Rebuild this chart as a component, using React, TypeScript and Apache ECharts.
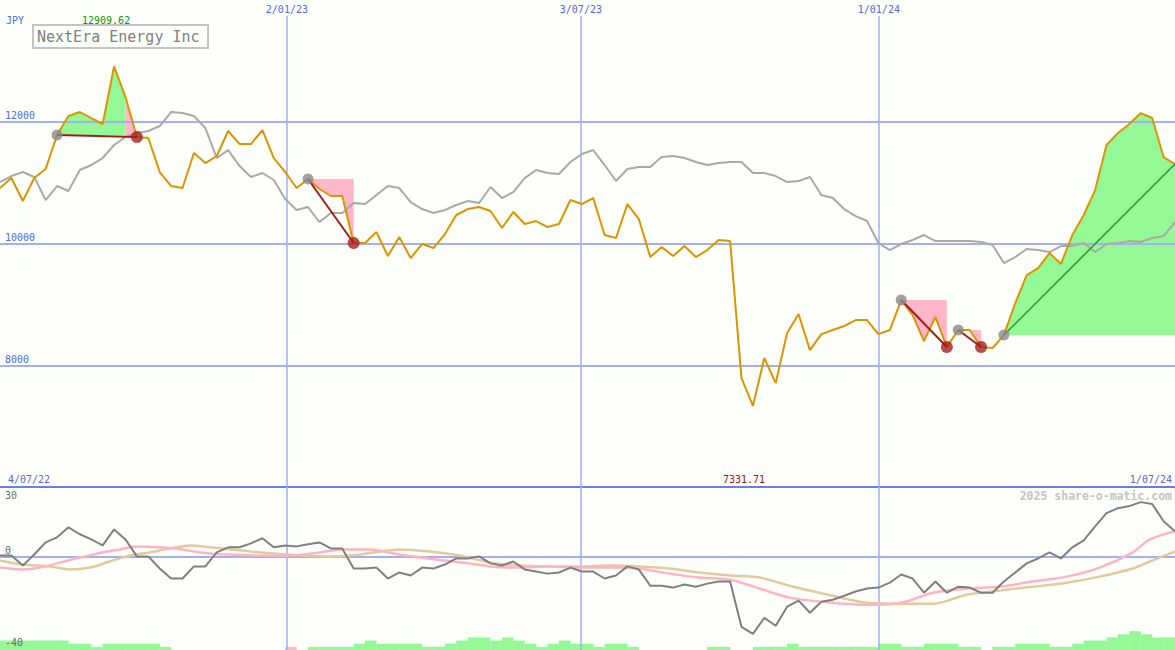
import React, { useEffect, useRef } from "react";
import * as echarts from "echarts";

// ---- data (weekly, index 0 = 4/07/22) ----
const startDate = "4/07/22";
const endDate = "1/07/24";
const orange = [10911,11075,10698,11075,11223,11782,12094,12160,12061,11963,
12909.62,12406,11749,11733,11174,10944,10911,11486,11322,11437,
11848,11634,11634,11864,11404,11174,10911,11059,10895,10780,
10780,10008,10008,10188,9794,10106,9761,9991,9925,10155,
10468,10566,10599,10533,10254,10517,10320,10369,10270,10320,
10714,10648,10747,10139,10090,10648,10402,9777,9942,9794,
9958,9777,9892,10057,10040,7789,7331.71,8118,7707,8529,
8841,8249,8512,8578,8644,8742,8742,8512,8578,9071,
8825,8397,8792,8299,8578,8578,8299,8282,8496,9022,
9482,9597,9843,9662,10139,10468,10878,11618,11815,11963,
12143,12061,11420,11305];
const gray = [11010,11108,11174,11092,10714,10944,10862,11207,11289,11404,
11618,11749,11815,11848,11930,12160,12143,12094,11897,11404,
11535,11273,11092,11158,11043,10730,10550,10599,10353,10500,
10500,10665,10648,10796,10944,10911,10681,10566,10500,10550,
10632,10698,10665,10928,10747,10845,11075,11207,11158,11141,
11338,11470,11535,11289,11026,11223,11256,11256,11420,11437,
11404,11338,11289,11322,11338,11338,11158,11158,11108,11010,
11026,11092,10796,10747,10566,10451,10369,10008,9892,9991,
10057,10139,10040,10040,10040,10040,10024,9975,9679,9777,
9909,9892,9860,9958,9958,10008,9860,9991,10008,10040,
10024,10090,10123,10353];
const osc = [0.6,0.6,-3.7,1.0,6.2,8.4,12.7,9.7,7.5,4.9,
11.8,7.5,0.2,0.2,-5.0,-9.3,-9.3,-4.1,-4.1,1.9,
4.1,4.1,5.8,8.0,4.1,4.9,4.5,5.4,6.2,3.6,
3.6,-5.0,-5.0,-4.6,-9.3,-6.7,-8.0,-4.6,-5.0,-3.3,
-0.7,-0.7,0.2,-2.8,-3.7,-2.0,-5.4,-6.3,-7.2,-6.7,
-4.6,-6.3,-6.3,-9.3,-8.0,-4.1,-5.4,-12.4,-12.4,-13.2,
-11.9,-12.8,-11.5,-10.6,-10.6,-30.1,-33.1,-26.2,-29.6,-21.4,
-18.8,-24.0,-19.3,-18.4,-16.7,-14.9,-13.6,-13.2,-11.1,-7.6,
-9.3,-15.4,-10.6,-15.4,-12.8,-13.2,-15.4,-15.4,-10.6,-6.7,
-2.8,-0.7,1.9,-0.7,4.1,7.1,13.1,18.8,20.9,21.8,
23.5,22.7,15.3,11.0];
const oscPink = [[0,-4.6],[2,-5.4],[3.5,-4.6],[5,-2.8],[7,-0.3],[9,1.9],[10.5,3.2],[12,4.5],[14,4.1],[16,3.2],[17.5,1.9],[20,1.0],[23,0.6],[25.5,0.6],[28,1.9],[30,3.2],[32.5,3.2],[35,1.0],[37.5,-0.7],[40.5,-2.4],[43,-4.1],[45.5,-4.6],[48,-4.1],[51,-4.6],[53.5,-4.6],[56,-5.0],[58.7,-7.2],[61.3,-8.9],[64,-9.8],[66.6,-13.6],[69.2,-17.5],[73,-19.7],[76,-20.6],[79,-19.7],[81.8,-15.4],[84.8,-13.6],[87.6,-12.8],[90.5,-10.6],[93.5,-8.5],[96.4,-4.6],[99.3,1.9],[100.8,7.5],[103,11.0]];
const oscTan = [[0,-1.5],[2,-3.3],[4.4,-4.1],[6.1,-5.4],[7.9,-4.6],[9.6,-2.0],[11.4,0.6],[13.1,1.9],[14.9,3.6],[16.7,4.9],[18.4,4.1],[21,2.8],[23.7,1.5],[26.3,0.6],[28.9,0.2],[31.6,1.0],[33.3,2.3],[35,3.2],[37.7,2.3],[40.3,0.6],[42.9,-2.4],[45.6,-3.7],[48.2,-4.1],[50.8,-4.1],[53.5,-3.7],[56.1,-4.1],[58.7,-5.0],[61.3,-6.7],[64,-8.0],[66.6,-8.9],[69.2,-12.4],[73,-16.7],[76,-19.7],[78.9,-20.1],[81.8,-20.1],[84.8,-16.2],[87.6,-14.5],[90.5,-12.8],[93.5,-11.1],[96.4,-8.5],[99.3,-5.0],[100.8,-2.0],[103,2.3]];
const volume = [3,3,3,3,3,3,2,2,1,2,
2,2,2,2,1,0,0,0,0,0,
0,0,0,0,0,1,0,1,1,1,
1,2,3,2,2,2,2,1,1,2,
3,4,4,3,4,3,2,1,2,3,
2,2,1,2,2,1,0,0,0,0,
0,0,1,1,0,0,1,1,1,2,
1,1,1,1,1,1,1,2,2,1,
1,2,2,2,1,1,0,1,1,2,
2,2,1,1,2,3,3,4,5,6,
5,4,4];
const volumeDown = [25];
const priceTicks = [8000, 10000, 12000];
const oscTicks = [30, 0, -40];
const dateLinePos = [25.15, 50.92, 77.04];
const dateLineLabels = ["2/01/23", "3/07/23", "1/01/24"];
const signalStart = [5, 27, 79, 84, 88];
const signalEnd = [12, 31, 83, 86, 103];
const signalOpen = [false, false, false, false, true];
const upFills = [[5, 11, 5], [88, 103, 88]];
const downFills = [[11, 12, 5], [27, 31, 27], [79, 83, 79], [84, 86, 84]];

const BG = "#fcfffa";
const GRID = "#a3aff0";
const BLUE_TEXT = "#5566e6";
const GREEN = "#94f894";
const PINK = "#ffb6c8";
const FONT = "DejaVu Sans Mono";
const DATE_TOP = 13737;

function range(a: number, b: number) {
  const r: number[] = [];
  for (let i = a; i <= b; i++) r.push(i);
  return r;
}

export default function App() {
  const ref = useRef<HTMLDivElement>(null);
  useEffect(() => {
    document.body.style.margin = "0";
    const chart = echarts.init(ref.current!, null, { renderer: "svg" });
    const priceMax = Math.max(...orange);
    const priceMin = Math.min(...orange);
    const series: any[] = [];

    const fill = (a: number, b: number, r: number, color: string) => ({
      type: "line", xAxisIndex: 0, yAxisIndex: 0, silent: true, z: 1,
      data: range(a, b).map((i) => [i, orange[i]]),
      symbol: "none", lineStyle: { width: 0 },
      areaStyle: { color, opacity: 1, origin: orange[r] },
    });
    upFills.forEach(([a, b, r]) => series.push(fill(a, b, r, GREEN)));
    downFills.forEach(([a, b, r]) => series.push(fill(a, b, r, PINK)));

    const lbl = (txt: string, pos: string, color: string, dist: any) => ({
      show: true, position: pos, formatter: txt, color, fontFamily: FONT, fontSize: 10, distance: dist,
    });

    series.push({
      type: "line", xAxisIndex: 0, yAxisIndex: 0, z: 3, silent: true,
      data: gray.map((v, i) => [i, v]), symbol: "none",
      lineStyle: { color: "#a9a9a9", width: 2 },
      markLine: {
        silent: true, z: 2, symbol: ["none", "none"],
        data: [
          ...priceTicks.map((v) => ({
            yAxis: v, lineStyle: { color: GRID, width: 2, type: "solid" },
            label: lbl(String(v), "insideStartTop", BLUE_TEXT, [5, 1]),
          })),
          ...dateLinePos.map((x, k) => [
            { coord: [x, DATE_TOP], lineStyle: { color: GRID, width: 1.5, type: "solid" },
              label: lbl(dateLineLabels[k], "start", BLUE_TEXT, 2) },
            { coord: [x, 6000] },
          ]),
        ],
      },
    });

    series.push({
      type: "line", xAxisIndex: 0, yAxisIndex: 0, z: 4, silent: true,
      data: orange.map((v, i) => [i, v]), symbol: "none",
      lineStyle: { color: "#dc9400", width: 2 },
    });

    signalStart.forEach((s, k) => {
      const e = signalEnd[k];
      series.push({
        type: "line", xAxisIndex: 0, yAxisIndex: 0, z: 5, silent: true,
        data: [[s, orange[s]], [e, orange[e]]], symbol: "none",
        lineStyle: { color: signalOpen[k] ? "#2a9a2a" : "#a31c1c", width: signalOpen[k] ? 1.5 : 2 },
      });
    });
    series.push({
      type: "scatter", xAxisIndex: 0, yAxisIndex: 0, z: 6, silent: true,
      data: signalStart.map((s) => [s, orange[s]]), symbolSize: 11,
      itemStyle: { color: "#8a8a8a" },
    });
    series.push({
      type: "scatter", xAxisIndex: 0, yAxisIndex: 0, z: 6, silent: true,
      data: signalEnd.filter((_, k) => !signalOpen[k]).map((e) => [e, orange[e]]), symbolSize: 12,
      itemStyle: { color: "#a81e1e" },
    });

    // lower panel
    series.push({
      type: "bar", xAxisIndex: 1, yAxisIndex: 2, z: 1, silent: true, barWidth: 11.6,
      data: volume.map((v, k) => ({ value: [k + 0.5, v], itemStyle: { color: volumeDown.includes(k) ? PINK : GREEN } })),
    });
    series.push({
      type: "line", xAxisIndex: 1, yAxisIndex: 1, z: 3, silent: true, smooth: 0.3,
      data: oscTan, symbol: "none", lineStyle: { color: "#e2ca9c", width: 2.5 },
    });
    series.push({
      type: "line", xAxisIndex: 1, yAxisIndex: 1, z: 3, silent: true, smooth: 0.3,
      data: oscPink, symbol: "none", lineStyle: { color: "#ffb4c4", width: 2.5 },
    });
    const oscPos = ["insideStartBottom", "insideStartTop", "insideStartTop"];
    const oscDist = [[5, 3], [5, 1], [5, 3]];
    series.push({
      type: "line", xAxisIndex: 1, yAxisIndex: 1, z: 4, silent: true,
      data: osc.map((v, i) => [i, v]), symbol: "none",
      lineStyle: { color: "#808080", width: 2 },
      markLine: {
        silent: true, z: 2, symbol: ["none", "none"],
        data: [
          ...oscTicks.map((v, k) => ({
            yAxis: v,
            lineStyle: v === 0 ? { color: GRID, width: 2, type: "solid" } : { color: "rgba(0,0,0,0)", width: 1, type: "solid" },
            label: lbl(String(v), oscPos[k], "#6a6a6a", oscDist[k]),
          })),
          ...dateLinePos.map((x) => ({ xAxis: x, lineStyle: { color: GRID, width: 1.5, type: "solid" }, label: { show: false } })),
        ],
      },
    });

    const txt = (text: string, x: number, y: number, fill: string, extra: any = {}) => ({
      type: "text", x, y, silent: true, z: 20,
      style: { text, fill, fontFamily: FONT, fontSize: 10, verticalAlign: "middle", align: "left", ...extra },
    });

    chart.setOption({
      animation: false,
      backgroundColor: BG,
      grid: [
        { left: 0, right: 0, top: 0, height: 487 },
        { left: 0, right: 0, top: 487, height: 163 },
      ],
      xAxis: [
        { type: "value", gridIndex: 0, min: 0, max: 103, show: false },
        {
          type: "value", gridIndex: 1, min: 0, max: 103, position: "top",
          axisLine: { show: true, onZero: false, lineStyle: { color: "#6d7de8", width: 2 } },
          axisTick: { show: false }, axisLabel: { show: false }, splitLine: { show: false },
        },
      ],
      yAxis: [
        { type: "value", gridIndex: 0, min: 6000, max: 14000, show: false },
        { type: "value", gridIndex: 1, min: -40, max: 30, show: false },
        { type: "value", gridIndex: 1, min: 0, max: 52, show: false },
      ],
      series,
      graphic: [
        { type: "rect", x: 33, y: 25, z: 20, silent: true, shape: { width: 175, height: 23 }, style: { fill: BG, stroke: "#c4c4c4", lineWidth: 2 } },
        txt("NextEra Energy Inc", 37, 37, "#808080", { fontSize: 15 }),
        txt("JPY", 6, 20, BLUE_TEXT),
        txt(priceMax.toFixed(2), 82, 20, "#0a9a0a"),
        txt(startDate, 8, 479, BLUE_TEXT),
        txt(priceMin.toFixed(2), 723, 479, "#a01818"),
        txt(endDate, 1172, 479, BLUE_TEXT, { align: "right" }),
        txt("2025 share-o-matic.com", 1172, 496, "#c4c4c4", { align: "right", fontSize: 11.5, fontWeight: "bold" }),
      ],
    });
    return () => chart.dispose();
  }, []);
  return <div ref={ref} style={{ position: "fixed", left: 0, top: 0, width: 1175, height: 650 }} />;
}
